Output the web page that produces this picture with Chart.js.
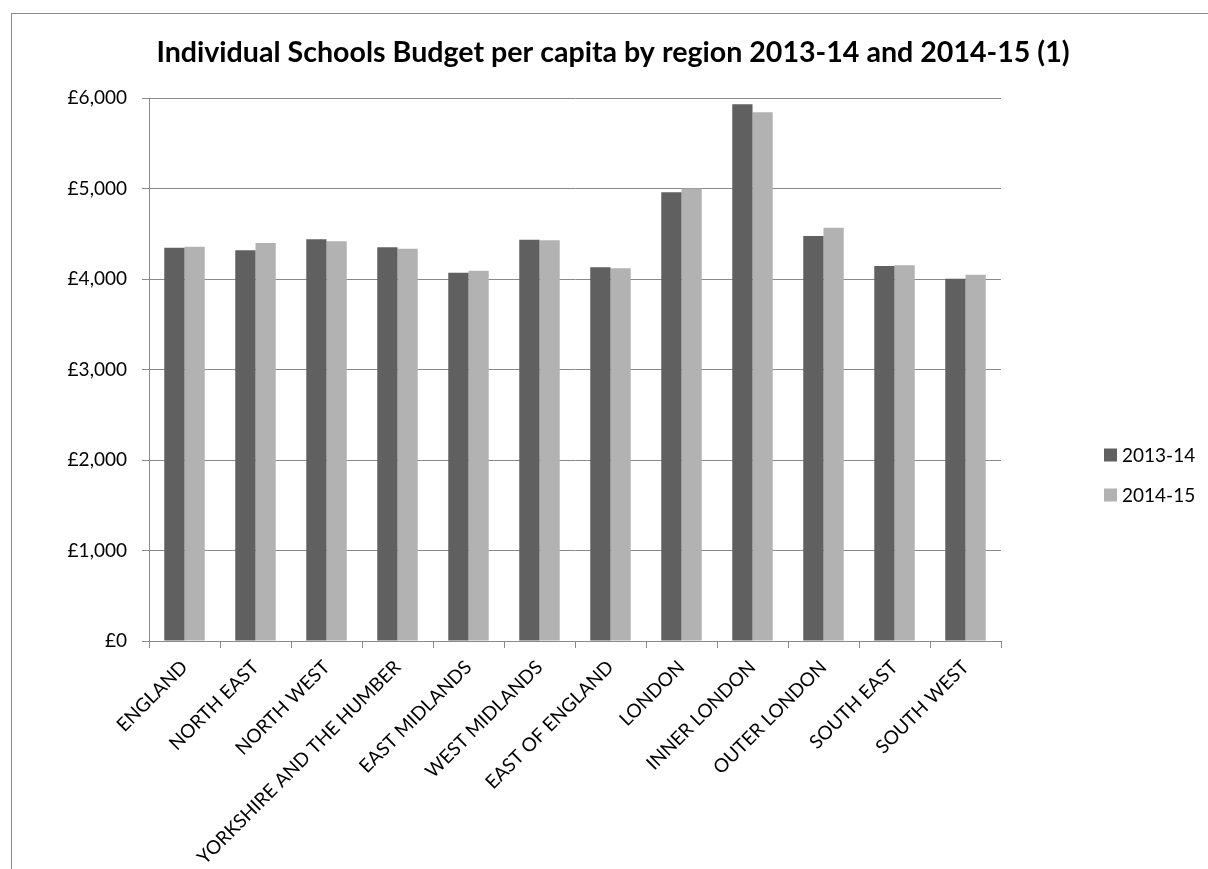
<!DOCTYPE html>
<html>
<head>
<meta charset="utf-8">
<script src="https://cdn.jsdelivr.net/npm/chart.js@4/dist/chart.umd.min.js"></script>
<style>
  html, body { margin: 0; padding: 0; background: #ffffff; }
  #wrap { position: relative; width: 1208px; height: 869px; }
</style>
</head>
<body>
<div id="wrap"><canvas id="c" width="1208" height="869"></canvas></div>
<script>
const chartTitle = "Individual Schools Budget per capita by region 2013-14 and 2014-15 (1)";
const categories = ["ENGLAND", "NORTH EAST", "NORTH WEST", "YORKSHIRE AND THE HUMBER", "EAST MIDLANDS", "WEST MIDLANDS", "EAST OF ENGLAND", "LONDON", "INNER LONDON", "OUTER LONDON", "SOUTH EAST", "SOUTH WEST"];
const seriesNames = ["2013-14", "2014-15"];
const values2013 = [4346, 4317, 4439, 4350, 4070, 4434, 4129, 4959, 5931, 4475, 4144, 4003];
const values2014 = [4357, 4398, 4417, 4335, 4092, 4427, 4118, 5000, 5843, 4567, 4151, 4047];
const yTicks = [0, 1000, 2000, 3000, 4000, 5000, 6000];

const FONT = "Lato, 'Open Sans', 'DejaVu Sans', sans-serif";
const colors = ["#606060", "#b2b2b2"];

const decor = {
  id: 'decor',
  beforeDraw(chart) {
    const ctx = chart.ctx;
    ctx.save();
    ctx.fillStyle = '#ffffff';
    ctx.fillRect(0, 0, chart.width, chart.height);
    ctx.strokeStyle = '#8a8a8a';
    ctx.lineWidth = 1;
    ctx.strokeRect(11.5, 13.5, chart.width + 20, chart.height + 20);
    ctx.restore();
  },
  afterDraw(chart) {
    const ctx = chart.ctx;
    ctx.save();
    // title
    ctx.fillStyle = '#000000';
    ctx.font = "bold 28.6px " + FONT;
    ctx.textAlign = 'center';
    ctx.textBaseline = 'alphabetic';
    ctx.fillText(chartTitle, 613, 62);
    // legend
    ctx.font = "19px " + FONT;
    ctx.textAlign = 'left';
    ctx.textBaseline = 'middle';
    const rows = [455, 495];
    chart.data.datasets.forEach((ds, i) => {
      ctx.fillStyle = ds.backgroundColor;
      ctx.fillRect(1104, rows[i] - 6.5, 13, 13);
      ctx.fillStyle = '#000000';
      ctx.fillText(ds.label, 1122, rows[i] + 1);
    });
    ctx.restore();
  }
};

new Chart(document.getElementById('c'), {
  type: 'bar',
  data: {
    labels: categories,
    datasets: [
      { label: seriesNames[0], data: values2013, backgroundColor: colors[0], borderWidth: 0 },
      { label: seriesNames[1], data: values2014, backgroundColor: colors[1], borderWidth: 0 }
    ]
  },
  options: {
    responsive: false,
    animation: false,
    devicePixelRatio: 1,
    layout: { padding: { left: 0, top: 98, right: 207, bottom: 0 } },
    datasets: { bar: { categoryPercentage: 0.57, barPercentage: 1.0 } },
    plugins: {
      legend: { display: false },
      title: { display: false },
      tooltip: { enabled: false }
    },
    scales: {
      x: {
        grid: { display: true, drawOnChartArea: false, drawTicks: true, tickLength: 7, color: '#8a8a8a', offset: true },
        border: { display: true, color: '#8a8a8a', width: 1 },
        ticks: {
          color: '#000000',
          font: { family: FONT, size: 19 },
          maxRotation: 45, minRotation: 45,
          autoSkip: false,
          padding: 8
        },
        afterFit(scale) { scale.height = 228; }
      },
      y: {
        min: 0, max: 6000,
        afterBuildTicks(scale) { scale.ticks = yTicks.map(v => ({ value: v })); },
        grid: { color: '#8a8a8a', lineWidth: 1, drawTicks: true, tickLength: 7 },
        border: { display: true, color: '#8a8a8a', width: 1 },
        ticks: {
          color: '#000000',
          font: { family: FONT, size: 19 },
          padding: 15,
          callback: (v) => '£' + Number(v).toLocaleString('en-GB')
        },
        afterFit(scale) { scale.width = 149; }
      }
    }
  },
  plugins: [decor]
});
</script>
</body>
</html>
